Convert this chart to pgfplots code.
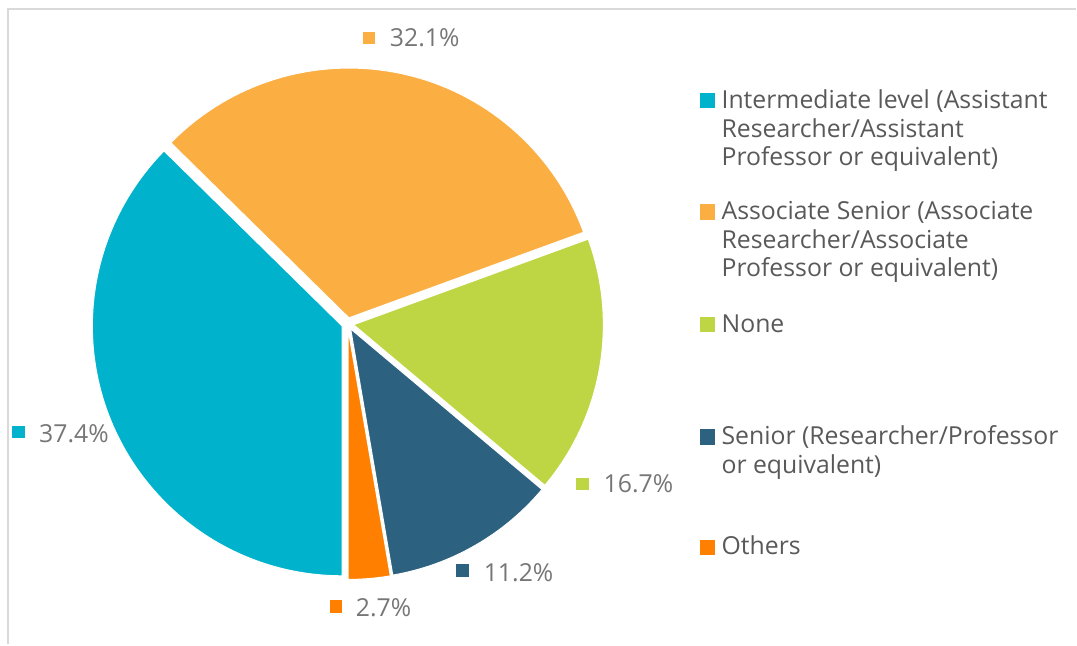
\documentclass[border=0pt]{standalone}
\usepackage{fontspec}
\setmainfont{Open Sans}
\usepackage{pgfplots}
\pgfplotsset{compat=1.18}

\definecolor{cA}{RGB}{0,178,204}
\definecolor{cB}{RGB}{251,174,66}
\definecolor{cC}{RGB}{190,214,68}
\definecolor{cD}{RGB}{45,97,128}
\definecolor{cE}{RGB}{255,128,0}
\definecolor{txt}{RGB}{89,89,89}
\definecolor{lbl}{RGB}{118,118,118}
\definecolor{framegray}{RGB}{217,217,217}

% shares in percent, clockwise from 6 o'clock
\def\vA{37.4}\def\vB{32.1}\def\vC{16.7}\def\vD{11.2}\def\vE{2.7}

% one exploded wedge: colour, start angle, end angle
\newcommand\pieslice[3]{%
  \pgfmathsetmacro\pmid{(#2+#3)/2}%
  \edef\pietmp{\noexpand\fill[#1, draw=white, line width=0.75pt]
    ([shift={(\pmid:4.5pt)}]axis cs:348,321) -- ++(#2:187.5pt)
    arc[start angle=#2, end angle=#3, radius=187.5pt] -- cycle;}%
  \pietmp}

\begin{document}
\begin{tikzpicture}[font=\fontsize{18.6}{22}\selectfont,
  every node/.style={inner sep=0pt, anchor=base west}]
\pgfmathsetmacro\tot{\vA+\vB+\vC+\vD+\vE}
\pgfmathsetmacro\aA{-90}
\pgfmathsetmacro\aB{\aA-360*\vA/\tot}
\pgfmathsetmacro\aC{\aB-360*\vB/\tot}
\pgfmathsetmacro\aD{\aC-360*\vC/\tot}
\pgfmathsetmacro\aE{\aD-360*\vD/\tot}
\pgfmathsetmacro\aF{\aE-360*\vE/\tot}
\begin{axis}[
  scale only axis, width=807.75pt, height=483.75pt,
  xmin=0, xmax=1077, ymin=0, ymax=645,
  hide axis, clip=false,
]
\path (axis cs:0,0) rectangle (axis cs:1077,645);
% frame of the original screenshot
\draw[framegray, line width=1.5pt] (axis cs:8.3,0) -- (axis cs:8.3,635.5) -- (axis cs:1077,635.5);

\pieslice{cA}{\aA}{\aB}
\pieslice{cB}{\aB}{\aC}
\pieslice{cC}{\aC}{\aD}
\pieslice{cD}{\aD}{\aE}
\pieslice{cE}{\aE}{\aF}

% data labels
\addplot[only marks, mark=square*, mark size=4.3pt, cA] coordinates {(18.5,213)};
\addplot[only marks, mark=square*, mark size=4.3pt, cB] coordinates {(369,607)};
\addplot[only marks, mark=square*, mark size=4.3pt, cC] coordinates {(583,161)};
\addplot[only marks, mark=square*, mark size=4.3pt, cD] coordinates {(462.5,74)};
\addplot[only marks, mark=square*, mark size=4.3pt, cE] coordinates {(336,38)};
\node[lbl] at (axis cs:39,202) {37.4\%};
\node[lbl] at (axis cs:390,598) {32.1\%};
\node[lbl] at (axis cs:604,152) {16.7\%};
\node[lbl] at (axis cs:484,63) {11.2\%};
\node[lbl] at (axis cs:356,28) {2.7\%};

% legend
\addplot[only marks, mark=square*, mark size=5.4pt, cA] coordinates {(708,544.5)};
\addplot[only marks, mark=square*, mark size=5.4pt, cB] coordinates {(708,433)};
\addplot[only marks, mark=square*, mark size=5.4pt, cC] coordinates {(708,320.5)};
\addplot[only marks, mark=square*, mark size=5.4pt, cD] coordinates {(708,208)};
\addplot[only marks, mark=square*, mark size=5.4pt, cE] coordinates {(708,97)};
\node[txt] at (axis cs:722,536) {Intermediate level (Assistant};
\node[txt] at (axis cs:722,507.5) {Researcher/Assistant};
\node[txt] at (axis cs:722,479) {Professor or equivalent)};
\node[txt] at (axis cs:722,425) {Associate Senior (Associate};
\node[txt] at (axis cs:722,396.5) {Researcher/Associate};
\node[txt] at (axis cs:722,368) {Professor or equivalent)};
\node[txt] at (axis cs:722,312) {None};
\node[txt] at (axis cs:722,200) {Senior (Researcher/Professor};
\node[txt] at (axis cs:722,171.5) {or equivalent)};
\node[txt] at (axis cs:722,90) {Others};
\end{axis}
\end{tikzpicture}
\end{document}
